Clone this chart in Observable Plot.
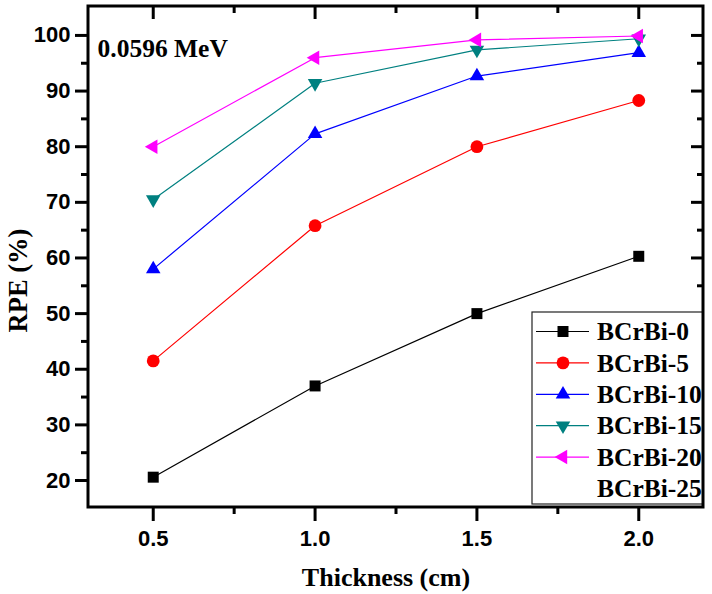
<!DOCTYPE html>
<html><head><meta charset="utf-8">
<script src="https://cdn.jsdelivr.net/npm/d3@7"></script>
<script src="https://cdn.jsdelivr.net/npm/@observablehq/plot@0.6"></script>
<style>body{margin:0;background:#fff}</style>
</head><body><div id="chart"></div>
<script>
const thickness = [0.5, 1.0, 1.5, 2.0];
const seriesNames = ["BCrBi-0", "BCrBi-5", "BCrBi-10", "BCrBi-15", "BCrBi-20", "BCrBi-25"];
const bcrbi0  = [20.6, 37.0, 50.0, 60.3];
const bcrbi5  = [41.5, 65.8, 80.0, 88.3];
const bcrbi10 = [58.0, 82.3, 92.7, 96.9];
const bcrbi15 = [70.5, 91.4, 97.4, 99.4];
const bcrbi20 = [80.0, 96.0, 99.2, 99.9];
const bcrbi25 = []; // appears in legend only
const seriesValues = [bcrbi0, bcrbi5, bcrbi10, bcrbi15, bcrbi20, bcrbi25];
const colors = ["#000000", "#ff0000", "#0000ff", "#008080", "#ff00ff", "none"];
const yTicks = [20, 30, 40, 50, 60, 70, 80, 90, 100];
const yMinor = [25, 35, 45, 55, 65, 75, 85, 95];
const xTicks = [0.5, 1.0, 1.5, 2.0];
const xMinor = [0.75, 1.25, 1.75];
const annotation = "0.0596 MeV";
const xLabel = "Thickness (cm)";
const yLabel = "RPE (%)";

const S3 = Math.sqrt(3);
const triUp = {draw(c, size) { const s = Math.sqrt(size * 4 / S3), h = s * S3 / 2;
  c.moveTo(0, -2 * h / 3); c.lineTo(s / 2, h / 3); c.lineTo(-s / 2, h / 3); c.closePath(); }};
const triDown = {draw(c, size) { const s = Math.sqrt(size * 4 / S3), h = s * S3 / 2;
  c.moveTo(0, 2 * h / 3); c.lineTo(-s / 2, -h / 3); c.lineTo(s / 2, -h / 3); c.closePath(); }};
const triLeft = {draw(c, size) { const s = Math.sqrt(size * 4 / S3), h = s * S3 / 2;
  c.moveTo(-2 * h / 3, 0); c.lineTo(h / 3, -s / 2); c.lineTo(h / 3, s / 2); c.closePath(); }};
const symbols = [d3.symbolSquare, d3.symbolCircle, triUp, triDown, triLeft, null];
const radii = [6.2, 6.4, 5.4, 5.4, 5.4, 0];

const rows = [];
seriesValues.forEach((vals, i) => vals.forEach((v, j) => rows.push({series: seriesNames[i], i, x: thickness[j], y: v})));

const W = 712, H = 594, mL = 88, mR = 9, mT = 6, mB = 87;
const plotW = W - mL - mR, plotH = H - mT - mB;
const sans = "'Liberation Sans', Arial, sans-serif";
const serif = "'Liberation Serif', 'Times New Roman', serif";

const marks = [];
seriesNames.forEach((name, i) => {
  const d = rows.filter(r => r.i === i);
  if (!d.length) return;
  marks.push(Plot.line(d, {x: "x", y: "y", stroke: colors[i], strokeWidth: 1.2}));
});
seriesNames.forEach((name, i) => {
  const d = rows.filter(r => r.i === i);
  if (!d.length) return;
  marks.push(Plot.dot(d, {x: "x", y: "y", symbol: () => symbols[i], fill: colors[i], stroke: "none", r: radii[i]}));
});

const plot = Plot.plot({
  width: W, height: H,
  marginLeft: mL, marginRight: mR, marginTop: mT, marginBottom: mB,
  style: {fontFamily: sans, background: "#fff"},
  x: {domain: [0.3, 2.2]},
  y: {domain: [15.15, 105.2]},
  symbol: {type: "identity"},
  marks: [
    ...marks,
    Plot.axisY(yTicks, {anchor: "left", label: null, tickSize: 13, tickPadding: 5, strokeWidth: 3, fontSize: 22, fontWeight: "bold", fill: "#000"}),
    Plot.axisY(yMinor, {anchor: "left", label: null, tickSize: 7, strokeWidth: 3, tickFormat: () => ""}),
    Plot.axisX(xTicks, {anchor: "bottom", label: null, tickSize: 14, tickPadding: 9, strokeWidth: 3, fontSize: 22, fontWeight: "bold", fill: "#000", tickFormat: d3.format(".1f")}),
    Plot.axisX(xMinor, {anchor: "bottom", label: null, tickSize: 7, strokeWidth: 3, tickFormat: () => ""}),
    Plot.tickY(yTicks, {y: d => d, insetLeft: plotW - 12, strokeWidth: 3}),
    Plot.tickY(yMinor, {y: d => d, insetLeft: plotW - 6, strokeWidth: 3}),
    Plot.tickX(xTicks, {x: d => d, insetBottom: plotH - 13, strokeWidth: 3}),
    Plot.tickX(xMinor, {x: d => d, insetBottom: plotH - 7, strokeWidth: 3}),
    Plot.text([annotation], {frameAnchor: "top-left", dx: 9, dy: 42, textAnchor: "start", lineAnchor: "middle", fontFamily: serif, fontWeight: "bold", fontSize: 25.5, fill: "#000"}),
    Plot.text([xLabel], {frameAnchor: "bottom", dx: -10, dy: 70, textAnchor: "middle", lineAnchor: "middle", fontFamily: serif, fontWeight: "bold", fontSize: 26, fill: "#000"}),
    Plot.text([yLabel], {frameAnchor: "left", dx: -70, dy: 23.5, rotate: -90, textAnchor: "middle", lineAnchor: "middle", fontFamily: serif, fontWeight: "bold", fontSize: 26.5, fill: "#000"})
  ]
});
document.getElementById("chart").appendChild(plot);

// Legend
const svg = d3.select(plot);
const lg = svg.append("g").attr("text-anchor", "start");
const lx0 = 532, ly0 = 312, lx1 = W - mR, ly1 = 504, step = 31.4, firstY = 331.5;
lg.append("rect").attr("x", lx0).attr("y", ly0).attr("width", lx1 - lx0).attr("height", ly1 - ly0)
  .attr("fill", "#fff").attr("stroke", "#222").attr("stroke-width", 1.2);
seriesNames.forEach((name, i) => {
  const cy = firstY + i * step;
  if (colors[i] !== "none") {
    lg.append("line").attr("x1", 536).attr("x2", 589).attr("y1", cy).attr("y2", cy)
      .attr("stroke", colors[i]).attr("stroke-width", 1.2);
    lg.append("path").attr("transform", `translate(563,${cy})`)
      .attr("d", d3.symbol(symbols[i], Math.PI * radii[i] * radii[i])())
      .attr("fill", colors[i]);
  }
  lg.append("text").attr("x", 597).attr("y", cy).attr("dy", "0.34em")
    .attr("text-anchor", "start")
    .attr("font-family", serif).attr("font-weight", "bold").attr("font-size", 25.5)
    .attr("fill", "#000").text(name);
});
// frame drawn last so it stays above the legend edge
svg.append("rect").attr("x", mL).attr("y", mT).attr("width", plotW).attr("height", plotH)
  .attr("fill", "none").attr("stroke", "#000").attr("stroke-width", 3);
</script>
</body></html>
